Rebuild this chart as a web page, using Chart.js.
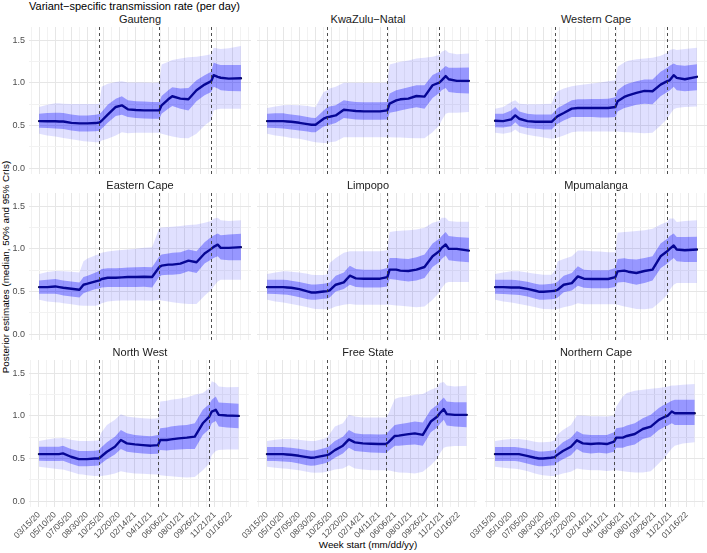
<!DOCTYPE html>
<html>
<head>
<meta charset="utf-8">
<script src="https://cdn.jsdelivr.net/npm/chart.js@4.4.1/dist/chart.umd.min.js"></script>
<style>
  html, body { margin:0; padding:0; background:#ffffff; }
  body { width:707px; height:553px; position:relative; overflow:hidden; font-family:"Liberation Sans", Arial, sans-serif; }
  canvas { position:absolute; }
  .txt { position:absolute; white-space:nowrap; color:#000; margin:0; padding:0; }
  .strip { position:absolute; width:222px; text-align:center; font-size:11px; line-height:13px; color:#1a1a1a; }
</style>
</head>
<body>
<div class="txt" id="mainTitle" style="position:absolute; left:29px; top:0px; font-size:11px; line-height:13px;"></div>
<div class="txt" id="yTitle" style="left:6px; top:267px; font-size:9.8px; line-height:12px; transform:translate(-50%,-50%) rotate(-90deg);"></div>
<div class="txt" id="xTitle" style="left:368px; top:545px; font-size:9.8px; line-height:12px; transform:translate(-50%,-50%);"></div>
<script>
// ---------------- DATA ----------------
const mainTitle = "Variant\u2212specific transmission rate (per day)";
const yAxisTitle = "Posterior estimates (median, 50% and 95% CrIs)";
const xAxisTitle = "Week start (mm/dd/yy)";

const provinces = ["Gauteng", "KwaZulu\u2212Natal", "Western Cape", "Eastern Cape", "Limpopo", "Mpumalanga", "North West", "Free State", "Northern Cape"];

// weeks since 03/15/20
const weeks = [0,4,8,10,12,16,20,22,24,28,29.9,31,34,38,41,44,48,52,56,59.6,60.7,64,66,70,74,78,82,85.3,86.5,88.5,90,94,100];

// x ticks (every 8 weeks labelled), gridlines every 4 weeks
const tickWeeks = [0,8,16,24,32,40,48,56,64,72,80,88,96];
const tickLabels = ["03/15/20","05/10/20","07/05/20","08/30/20","10/25/20","12/20/20","02/14/21","04/11/21","06/06/21","08/01/21","09/26/21","11/21/21","01/16/22"];
const gridWeeks = [-4,0,4,8,12,16,20,24,28,32,36,40,44,48,52,56,60,64,68,72,76,80,84,88,92,96,100,104];
const yTickValues = [0, 0.5, 1.0, 1.5];
const yTickLabels = ["0.0","0.5","1.0","1.5"];
const yGridValues = [0,0.25,0.5,0.75,1.0,1.25,1.5];

// variant introduction dates (weeks since 03/15/20)
const variantWeeks = [29.9, 59.6, 85.3];

// Gauteng
const gautengMedian = [0.551,0.55,0.55,0.547,0.547,0.53,0.524,0.524,0.524,0.528,0.535,0.555,0.626,0.717,0.736,0.689,0.681,0.677,0.677,0.677,0.736,0.807,0.843,0.815,0.807,0.913,0.98,1.02,1.09,1.07,1.06,1.05,1.055];
const gautengHi50 = [0.638,0.646,0.65,0.65,0.646,0.63,0.618,0.618,0.618,0.626,0.634,0.657,0.744,0.815,0.843,0.795,0.783,0.78,0.776,0.776,0.846,0.913,0.949,0.933,0.94,1.03,1.09,1.13,1.24,1.22,1.21,1.21,1.21];
const gautengLo50 = [0.472,0.469,0.465,0.46,0.457,0.441,0.429,0.429,0.429,0.433,0.437,0.46,0.531,0.61,0.626,0.598,0.587,0.583,0.579,0.579,0.638,0.697,0.728,0.697,0.677,0.783,0.854,0.894,0.953,0.933,0.913,0.906,0.902];
const gautengHi95 = [0.717,0.744,0.76,0.76,0.756,0.752,0.752,0.752,0.752,0.752,0.756,0.953,0.99,1.01,1.02,1.004,1.004,1.004,1.0,1.004,1.217,1.248,1.268,1.287,1.3,1.307,1.32,1.335,1.413,1.405,1.398,1.406,1.433];
const gautengLo95 = [0.402,0.382,0.37,0.362,0.354,0.339,0.323,0.315,0.311,0.303,0.303,0.323,0.343,0.382,0.421,0.409,0.413,0.413,0.413,0.413,0.402,0.382,0.37,0.354,0.35,0.402,0.5,0.559,0.677,0.69,0.697,0.697,0.697];

// KwaZulu-Natal
const kznMedian = [0.551,0.551,0.551,0.547,0.543,0.531,0.516,0.508,0.508,0.579,0.598,0.602,0.618,0.685,0.677,0.669,0.665,0.665,0.665,0.677,0.756,0.795,0.807,0.815,0.846,0.839,0.972,1.004,1.03,1.08,1.043,1.024,1.024];
const kznHi50 = [0.638,0.642,0.642,0.634,0.63,0.618,0.598,0.59,0.587,0.677,0.717,0.724,0.736,0.795,0.783,0.776,0.772,0.772,0.772,0.776,0.874,0.913,0.925,0.949,0.972,0.972,1.091,1.13,1.157,1.197,1.177,1.177,1.181];
const kznLo50 = [0.472,0.469,0.465,0.457,0.453,0.441,0.429,0.421,0.421,0.488,0.5,0.508,0.528,0.587,0.579,0.571,0.567,0.567,0.567,0.571,0.65,0.665,0.677,0.697,0.713,0.697,0.823,0.882,0.913,0.941,0.894,0.882,0.874];
const kznHi95 = [0.705,0.724,0.736,0.74,0.74,0.736,0.728,0.72,0.713,0.894,0.913,0.933,0.953,1.0,1.0,1.0,1.0,1.0,1.0,1.004,1.217,1.236,1.248,1.264,1.287,1.295,1.307,1.327,1.366,1.386,1.354,1.335,1.346];
const kznLo95 = [0.402,0.382,0.37,0.362,0.354,0.343,0.323,0.311,0.303,0.295,0.295,0.303,0.311,0.362,0.362,0.362,0.362,0.362,0.362,0.362,0.362,0.358,0.358,0.354,0.35,0.35,0.421,0.5,0.559,0.638,0.65,0.65,0.657];

// Western Cape
const wcMedian = [0.555,0.551,0.571,0.618,0.579,0.551,0.543,0.543,0.543,0.543,0.587,0.61,0.646,0.697,0.705,0.705,0.705,0.705,0.705,0.717,0.783,0.835,0.854,0.882,0.906,0.902,0.98,1.02,1.03,1.09,1.059,1.043,1.071];
const wcHi50 = [0.638,0.638,0.677,0.717,0.665,0.638,0.63,0.63,0.63,0.63,0.677,0.705,0.744,0.795,0.807,0.807,0.811,0.811,0.815,0.831,0.913,0.972,0.992,1.02,1.039,1.039,1.13,1.177,1.2,1.228,1.209,1.2,1.22];
const wcLo50 = [0.48,0.476,0.492,0.539,0.492,0.469,0.46,0.457,0.453,0.453,0.5,0.52,0.559,0.598,0.598,0.598,0.598,0.594,0.594,0.598,0.665,0.705,0.717,0.744,0.756,0.748,0.843,0.894,0.909,0.953,0.913,0.902,0.913];
const wcHi95 = [0.697,0.717,0.776,0.795,0.756,0.748,0.748,0.748,0.752,0.756,0.874,0.902,0.933,0.961,0.972,0.98,0.992,1.004,1.02,1.03,1.189,1.24,1.26,1.276,1.287,1.295,1.319,1.354,1.386,1.398,1.386,1.398,1.413];
const wcLo95 = [0.413,0.402,0.421,0.453,0.413,0.39,0.374,0.366,0.358,0.343,0.35,0.358,0.382,0.421,0.429,0.429,0.429,0.429,0.429,0.429,0.429,0.421,0.421,0.413,0.409,0.413,0.5,0.579,0.626,0.689,0.705,0.717,0.724];

// Eastern Cape
const ecMedian = [0.551,0.551,0.559,0.551,0.543,0.531,0.52,0.579,0.591,0.618,0.63,0.646,0.661,0.661,0.665,0.669,0.669,0.673,0.669,0.787,0.803,0.815,0.815,0.827,0.862,0.843,0.945,1.0,1.024,1.05,1.012,1.012,1.02];
const ecHi50 = [0.63,0.638,0.646,0.638,0.63,0.618,0.606,0.669,0.685,0.724,0.744,0.764,0.772,0.772,0.776,0.78,0.783,0.787,0.783,0.913,0.933,0.945,0.953,0.961,0.992,0.972,1.079,1.138,1.157,1.181,1.161,1.169,1.177];
const ecLo50 = [0.472,0.472,0.472,0.465,0.453,0.441,0.429,0.48,0.496,0.528,0.535,0.547,0.551,0.551,0.551,0.551,0.551,0.555,0.547,0.677,0.689,0.697,0.697,0.705,0.736,0.717,0.827,0.874,0.894,0.913,0.874,0.866,0.866];
const ecHi95 = [0.705,0.728,0.74,0.74,0.736,0.732,0.724,0.854,0.886,0.925,0.941,0.953,0.969,0.98,0.988,0.992,1.0,1.012,1.02,1.248,1.252,1.256,1.26,1.268,1.28,1.287,1.307,1.327,1.354,1.366,1.335,1.327,1.335];
const ecLo95 = [0.402,0.382,0.374,0.37,0.362,0.35,0.335,0.331,0.331,0.331,0.343,0.362,0.382,0.39,0.394,0.394,0.394,0.394,0.39,0.402,0.394,0.382,0.374,0.362,0.354,0.354,0.449,0.52,0.559,0.618,0.638,0.638,0.638];

// Limpopo
const lpMedian = [0.551,0.551,0.551,0.547,0.543,0.528,0.5,0.488,0.488,0.5,0.504,0.512,0.579,0.606,0.685,0.654,0.65,0.65,0.65,0.669,0.756,0.756,0.744,0.74,0.756,0.787,0.913,0.972,1.012,1.051,1.0,1.0,0.98];
const lpHi50 = [0.638,0.638,0.638,0.634,0.626,0.61,0.591,0.583,0.583,0.591,0.598,0.606,0.685,0.724,0.803,0.764,0.756,0.756,0.756,0.776,0.894,0.894,0.886,0.882,0.902,0.933,1.063,1.118,1.15,1.197,1.15,1.138,1.13];
const lpLo50 = [0.472,0.469,0.465,0.461,0.453,0.433,0.409,0.402,0.402,0.413,0.417,0.429,0.5,0.528,0.579,0.551,0.547,0.547,0.547,0.559,0.646,0.638,0.63,0.618,0.63,0.657,0.787,0.843,0.882,0.921,0.866,0.854,0.843];
const lpHi95 = [0.705,0.724,0.736,0.736,0.732,0.724,0.709,0.697,0.693,0.693,0.701,0.835,0.894,0.953,0.972,0.972,0.972,0.972,0.972,0.984,1.197,1.209,1.213,1.22,1.228,1.248,1.307,1.327,1.366,1.366,1.327,1.319,1.319];
const lpLo95 = [0.402,0.382,0.37,0.362,0.354,0.335,0.315,0.303,0.295,0.291,0.291,0.295,0.323,0.343,0.354,0.343,0.343,0.343,0.343,0.343,0.343,0.335,0.331,0.323,0.315,0.323,0.402,0.488,0.539,0.598,0.61,0.61,0.61];

// Mpumalanga
const mpMedian = [0.551,0.551,0.547,0.547,0.547,0.531,0.508,0.496,0.496,0.504,0.508,0.52,0.579,0.598,0.677,0.65,0.646,0.646,0.646,0.669,0.736,0.744,0.732,0.717,0.74,0.756,0.913,0.972,1.0,1.039,0.992,0.984,0.992];
const mpHi50 = [0.638,0.638,0.638,0.634,0.63,0.614,0.591,0.583,0.583,0.591,0.598,0.618,0.685,0.717,0.795,0.756,0.748,0.748,0.748,0.776,0.882,0.89,0.882,0.874,0.894,0.913,1.063,1.118,1.15,1.181,1.138,1.138,1.142];
const mpLo50 = [0.472,0.469,0.465,0.461,0.457,0.441,0.413,0.402,0.402,0.409,0.413,0.429,0.492,0.512,0.567,0.543,0.539,0.539,0.539,0.551,0.606,0.61,0.598,0.579,0.598,0.63,0.772,0.827,0.854,0.894,0.854,0.846,0.846];
const mpHi95 = [0.705,0.724,0.736,0.736,0.736,0.724,0.709,0.701,0.697,0.697,0.756,0.854,0.882,0.913,0.98,0.98,0.972,0.969,0.961,0.961,1.189,1.197,1.2,1.209,1.22,1.236,1.287,1.319,1.358,1.358,1.315,1.327,1.335];
const mpLo95 = [0.402,0.382,0.37,0.362,0.354,0.335,0.315,0.303,0.295,0.291,0.291,0.295,0.315,0.335,0.362,0.35,0.35,0.35,0.35,0.35,0.343,0.323,0.315,0.295,0.291,0.303,0.382,0.461,0.52,0.579,0.598,0.598,0.598];

// North West
const nwMedian = [0.551,0.551,0.551,0.551,0.559,0.52,0.492,0.492,0.492,0.5,0.5,0.52,0.579,0.638,0.717,0.677,0.665,0.657,0.65,0.657,0.717,0.717,0.724,0.736,0.744,0.756,0.913,0.992,1.051,1.071,1.012,1.004,1.0];
const nwHi50 = [0.638,0.638,0.638,0.638,0.65,0.61,0.587,0.587,0.587,0.591,0.598,0.626,0.689,0.756,0.835,0.795,0.776,0.768,0.76,0.776,0.854,0.862,0.874,0.886,0.894,0.913,1.071,1.138,1.189,1.228,1.157,1.15,1.142];
const nwLo50 = [0.472,0.469,0.469,0.469,0.472,0.437,0.409,0.409,0.409,0.413,0.417,0.437,0.492,0.547,0.61,0.579,0.567,0.559,0.551,0.555,0.598,0.594,0.598,0.606,0.61,0.61,0.776,0.846,0.913,0.941,0.874,0.862,0.854];
const nwHi95 = [0.705,0.724,0.736,0.736,0.744,0.72,0.705,0.705,0.705,0.709,0.713,0.795,0.894,0.953,1.02,0.992,0.98,0.972,0.965,0.972,1.169,1.177,1.189,1.201,1.217,1.248,1.268,1.327,1.406,1.386,1.346,1.335,1.339];
const nwLo95 = [0.402,0.39,0.378,0.374,0.37,0.343,0.315,0.311,0.303,0.295,0.295,0.295,0.303,0.323,0.35,0.335,0.323,0.319,0.315,0.311,0.303,0.295,0.291,0.283,0.276,0.283,0.362,0.441,0.539,0.587,0.598,0.606,0.606];

// Free State
const fsMedian = [0.551,0.551,0.551,0.547,0.543,0.531,0.516,0.508,0.512,0.531,0.539,0.547,0.598,0.65,0.724,0.689,0.677,0.673,0.669,0.669,0.689,0.764,0.768,0.783,0.795,0.776,0.933,0.992,1.031,1.079,1.02,1.012,1.012];
const fsHi50 = [0.634,0.634,0.634,0.63,0.626,0.614,0.598,0.591,0.594,0.618,0.63,0.642,0.705,0.756,0.835,0.795,0.783,0.783,0.78,0.783,0.815,0.894,0.902,0.917,0.933,0.921,1.071,1.13,1.169,1.217,1.169,1.161,1.161];
const fsLo50 = [0.469,0.469,0.465,0.461,0.457,0.441,0.421,0.413,0.417,0.437,0.449,0.461,0.508,0.559,0.626,0.587,0.579,0.571,0.567,0.563,0.587,0.65,0.65,0.657,0.665,0.65,0.807,0.862,0.906,0.953,0.886,0.874,0.866];
const fsHi95 = [0.705,0.72,0.728,0.728,0.728,0.72,0.709,0.705,0.705,0.728,0.744,0.776,0.874,0.913,1.012,0.992,0.98,0.98,0.98,0.98,1.02,1.197,1.217,1.228,1.248,1.256,1.307,1.335,1.386,1.398,1.358,1.346,1.354];
const fsLo95 = [0.402,0.39,0.382,0.378,0.374,0.362,0.343,0.335,0.331,0.335,0.343,0.35,0.37,0.382,0.421,0.382,0.37,0.362,0.362,0.362,0.362,0.343,0.335,0.331,0.323,0.343,0.421,0.5,0.559,0.626,0.638,0.646,0.646];

// Northern Cape
const ncMedian = [0.551,0.551,0.551,0.551,0.551,0.531,0.508,0.5,0.5,0.508,0.516,0.539,0.587,0.638,0.713,0.677,0.669,0.677,0.669,0.697,0.744,0.744,0.764,0.787,0.846,0.874,0.953,0.992,1.004,1.051,1.031,1.031,1.031];
const ncHi50 = [0.634,0.634,0.634,0.634,0.63,0.614,0.591,0.583,0.583,0.591,0.598,0.626,0.689,0.744,0.823,0.783,0.776,0.776,0.776,0.807,0.854,0.866,0.886,0.913,0.972,1.012,1.091,1.138,1.15,1.177,1.189,1.189,1.189];
const ncLo50 = [0.469,0.469,0.469,0.469,0.465,0.441,0.417,0.409,0.409,0.417,0.421,0.449,0.492,0.539,0.61,0.571,0.559,0.567,0.559,0.579,0.626,0.626,0.642,0.665,0.728,0.756,0.835,0.874,0.886,0.913,0.894,0.894,0.894];
const ncHi95 = [0.705,0.72,0.728,0.728,0.728,0.717,0.697,0.689,0.689,0.697,0.717,0.776,0.835,0.894,1.004,1.004,0.996,0.996,0.992,1.004,1.11,1.228,1.268,1.295,1.307,1.319,1.327,1.339,1.346,1.358,1.358,1.366,1.374];
const ncLo95 = [0.402,0.39,0.382,0.378,0.374,0.354,0.323,0.311,0.303,0.295,0.295,0.303,0.323,0.343,0.382,0.37,0.362,0.362,0.354,0.362,0.362,0.35,0.343,0.335,0.335,0.35,0.441,0.52,0.559,0.618,0.65,0.677,0.689];

// ---------------- ASSEMBLY ----------------
const series = [
  [gautengMedian, gautengLo50, gautengHi50, gautengLo95, gautengHi95],
  [kznMedian, kznLo50, kznHi50, kznLo95, kznHi95],
  [wcMedian, wcLo50, wcHi50, wcLo95, wcHi95],
  [ecMedian, ecLo50, ecHi50, ecLo95, ecHi95],
  [lpMedian, lpLo50, lpHi50, lpLo95, lpHi95],
  [mpMedian, mpLo50, mpHi50, mpLo95, mpHi95],
  [nwMedian, nwLo50, nwHi50, nwLo95, nwHi95],
  [fsMedian, fsLo50, fsHi50, fsLo95, fsHi95],
  [ncMedian, ncLo50, ncHi50, ncLo95, ncHi95]
];

document.getElementById('mainTitle').textContent = mainTitle;
document.getElementById('yTitle').textContent = yAxisTitle;
document.getElementById('xTitle').textContent = xAxisTitle;

Chart.defaults.font.family = '"Liberation Sans", Arial, sans-serif';
Chart.defaults.animation = false;

const colLeft = [29, 257, 485];
const rowTop = [27, 193, 360];
const PW = 222, PH = 147;
const L = 30, T = 10, R = 6, B = 56;

const toPts = arr => arr.map((v, i) => ({x: weeks[i], y: v}));

const vlinePlugin = {
  id: 'vlines',
  afterDatasetsDraw(chart) {
    const {ctx, chartArea, scales} = chart;
    ctx.save();
    ctx.strokeStyle = '#3a3a3a';
    ctx.lineWidth = 0.9;
    ctx.setLineDash([3, 3]);
    variantWeeks.forEach(w => {
      const px = Math.round(scales.x.getPixelForValue(w)) + 0.5;
      ctx.beginPath();
      ctx.moveTo(px, chartArea.top);
      ctx.lineTo(px, chartArea.bottom);
      ctx.stroke();
    });
    ctx.restore();
  }
};

provinces.forEach((name, idx) => {
  const col = idx % 3, row = Math.floor(idx / 3);
  const showY = col === 0, showX = row === 2;
  const left = colLeft[col], top = rowTop[row];

  const strip = document.createElement('div');
  strip.className = 'strip';
  strip.style.left = left + 'px';
  strip.style.top = (top - 14) + 'px';
  strip.textContent = name;
  document.body.appendChild(strip);

  const cv = document.createElement('canvas');
  cv.width = PW + L + R; cv.height = PH + T + B;
  cv.style.left = (left - L) + 'px';
  cv.style.top = (top - T) + 'px';
  cv.style.width = cv.width + 'px'; cv.style.height = cv.height + 'px';
  document.body.appendChild(cv);

  const [med, lo50, hi50, lo95, hi95] = series[idx];
  const band = (data, fill, color) => ({
    data: toPts(data), borderWidth: 0, pointRadius: 0, tension: 0,
    fill: fill, backgroundColor: color, borderColor: 'rgba(0,0,0,0)'
  });

  new Chart(cv, {
    type: 'line',
    data: {
      datasets: [
        band(lo95, false, 'rgba(0,0,0,0)'),
        band(hi95, '-1', 'rgba(0,0,255,0.12)'),
        band(lo50, false, 'rgba(0,0,0,0)'),
        band(hi50, '-1', 'rgba(0,0,255,0.33)'),
        { data: toPts(med), borderColor: '#0b0b4b', borderWidth: 2.4, pointRadius: 0, tension: 0, fill: false, borderJoinStyle: 'round', borderCapStyle: 'round' }
      ]
    },
    options: {
      responsive: false,
      devicePixelRatio: 1,
      animation: false,
      events: [],
      layout: { padding: { left: 0, top: T, right: R, bottom: 0 } },
      plugins: { legend: { display: false }, tooltip: { enabled: false }, title: { display: false } },
      scales: {
        x: {
          type: 'linear', min: -5, max: 105,
          afterBuildTicks: s => { s.ticks = gridWeeks.map(v => ({value: v})); },
          afterFit: s => { s.height = B; },
          border: { display: false },
          grid: {
            drawTicks: false,
            color: c => (c.tick && tickWeeks.includes(c.tick.value)) ? '#e6e6e6' : '#f2f2f2',
            lineWidth: 1
          },
          ticks: {
            display: showX, autoSkip: false, minRotation: 45, maxRotation: 45, padding: 3,
            color: '#4d4d4d', font: { size: 8.5 },
            callback: v => { const i = tickWeeks.indexOf(v); return i >= 0 ? tickLabels[i] : ''; }
          }
        },
        y: {
          type: 'linear', min: -0.07, max: 1.656,
          afterBuildTicks: s => { s.ticks = yGridValues.map(v => ({value: v})); },
          afterFit: s => { s.width = L; },
          border: { display: false },
          grid: {
            drawTicks: false,
            color: c => (c.tick && yTickValues.includes(c.tick.value)) ? '#e6e6e6' : '#f2f2f2',
            lineWidth: 1
          },
          ticks: {
            display: showY, padding: 4, color: '#4d4d4d', font: { size: 9 },
            callback: v => { const i = yTickValues.indexOf(v); return i >= 0 ? yTickLabels[i] : ''; }
          }
        }
      }
    },
    plugins: [vlinePlugin]
  });
});
</script>
</body>
</html>
